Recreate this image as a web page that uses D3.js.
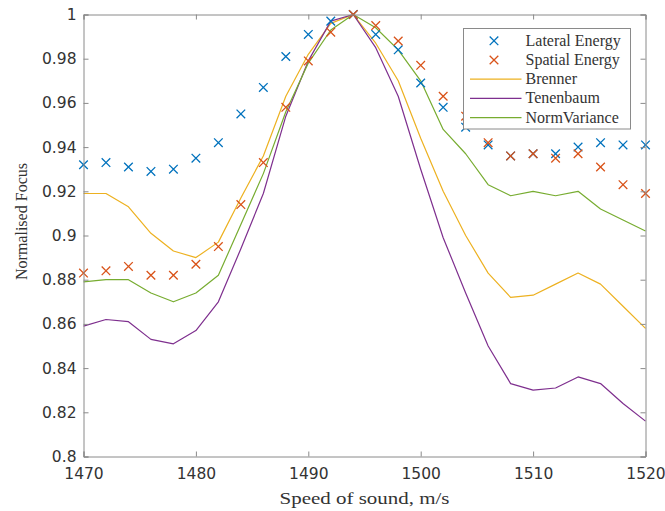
<!DOCTYPE html>
<html>
<head>
<meta charset="utf-8">
<script src="https://cdn.jsdelivr.net/npm/d3@7/dist/d3.min.js"></script>
<style>
  html, body { margin: 0; padding: 0; background: #fff; }
  svg { display: block; }
</style>
</head>
<body>
<svg id="chart" width="665" height="511"></svg>
<script>
// Speed of sound samples (m/s)
const speeds = [1470, 1472, 1474, 1476, 1478, 1480, 1482, 1484, 1486, 1488, 1490, 1492, 1494,
                1496, 1498, 1500, 1502, 1504, 1506, 1508, 1510, 1512, 1514, 1516, 1518, 1520];

// Normalised focus measures
const lateralEnergy = [0.932, 0.933, 0.931, 0.929, 0.930, 0.935, 0.942, 0.955, 0.967, 0.981, 0.991, 0.997, 1.000,
                       0.991, 0.984, 0.969, 0.958, 0.949, 0.941, 0.936, 0.937, 0.937, 0.940, 0.942, 0.941, 0.941];
const spatialEnergy = [0.883, 0.884, 0.886, 0.882, 0.882, 0.887, 0.895, 0.914, 0.933, 0.958, 0.979, 0.992, 1.000,
                       0.995, 0.988, 0.977, 0.963, 0.954, 0.942, 0.936, 0.937, 0.935, 0.937, 0.931, 0.923, 0.919];
const brenner = [0.919, 0.919, 0.913, 0.901, 0.893, 0.890, 0.897, 0.917, 0.936, 0.963, 0.982, 0.996, 1.000,
                 0.987, 0.970, 0.944, 0.920, 0.900, 0.883, 0.872, 0.873, 0.878, 0.883, 0.878, 0.868, 0.858];
const tenenbaum = [0.859, 0.862, 0.861, 0.853, 0.851, 0.857, 0.870, 0.894, 0.919, 0.954, 0.979, 0.997, 1.000,
                   0.985, 0.963, 0.930, 0.899, 0.874, 0.850, 0.833, 0.830, 0.831, 0.836, 0.833, 0.824, 0.816];
const normVariance = [0.879, 0.880, 0.880, 0.874, 0.870, 0.874, 0.882, 0.905, 0.928, 0.956, 0.978, 0.993, 1.000,
                      0.994, 0.984, 0.970, 0.948, 0.937, 0.923, 0.918, 0.920, 0.918, 0.920, 0.912, 0.907, 0.902];

const xTicks = [1470, 1480, 1490, 1500, 1510, 1520];
const yTicks = [0.8, 0.82, 0.84, 0.86, 0.88, 0.9, 0.92, 0.94, 0.96, 0.98, 1];

const seriesList = [
  { name: "Lateral Energy", values: lateralEnergy, kind: "marker", color: "#0072BD" },
  { name: "Spatial Energy", values: spatialEnergy, kind: "marker", color: "#D95319" },
  { name: "Brenner", values: brenner, kind: "line", color: "#EDB120" },
  { name: "Tenenbaum", values: tenenbaum, kind: "line", color: "#7E2F8E" },
  { name: "NormVariance", values: normVariance, kind: "line", color: "#77AC30" }
];

const svg = d3.select("#chart");
const plotLeft = 83.5, plotRight = 645.5, plotTop = 14.5, plotBottom = 456.5;
const axisColor = "#8a8a8a";
const textColor = "#333333";
const serif = "'Liberation Serif', 'DejaVu Serif', serif";

const x = d3.scaleLinear().domain([1470, 1520]).range([plotLeft, plotRight]);
const y = d3.scaleLinear().domain([0.8, 1]).range([plotBottom, plotTop]);

// Lines first, then markers on top
const lineGen = d3.line().x((d, i) => x(speeds[i])).y(d => y(d));
const plot = svg.append("g");

seriesList.filter(s => s.kind === "line").forEach(s => {
  plot.append("path")
    .attr("d", lineGen(s.values))
    .attr("fill", "none")
    .attr("stroke", s.color)
    .attr("stroke-width", 1.2)
    .attr("stroke-linejoin", "round");
});

function cross(g, cx, cy, r, color) {
  g.append("path")
    .attr("d", `M${cx - r},${cy - r}L${cx + r},${cy + r}M${cx - r},${cy + r}L${cx + r},${cy - r}`)
    .attr("stroke", color)
    .attr("stroke-width", 1.3)
    .attr("fill", "none");
}

seriesList.filter(s => s.kind === "marker").forEach(s => {
  const g = plot.append("g");
  s.values.forEach((v, i) => cross(g, x(speeds[i]), y(v), 4.3, s.color));
});

// Axes box with inward ticks on all four sides
const tickLen = 5;
const axX = d3.axisBottom(x).tickValues(xTicks).tickSize(-tickLen).tickPadding(11).tickFormat(d3.format("d"));
const axXTop = d3.axisTop(x).tickValues(xTicks).tickSize(-tickLen).tickFormat("");
const axY = d3.axisLeft(y).tickValues(yTicks).tickSize(-tickLen).tickPadding(7).tickFormat(d => d === 1 ? "1" : d3.format(".2~f")(d));
const axYRight = d3.axisRight(y).tickValues(yTicks).tickSize(-tickLen).tickFormat("");

function styleAxis(g) {
  g.select(".domain").attr("stroke", axisColor);
  g.selectAll(".tick line").attr("stroke", axisColor);
  g.selectAll(".tick text")
    .attr("fill", textColor)
    .style("font-family", "'DejaVu Sans', sans-serif")
    .style("font-size", "15.5px");
}

svg.append("g").attr("transform", `translate(0,${plotBottom})`).call(axX).call(styleAxis);
svg.append("g").attr("transform", `translate(0,${plotTop})`).call(axXTop).call(styleAxis);
svg.append("g").attr("transform", `translate(${plotLeft},0)`).call(axY).call(styleAxis);
svg.append("g").attr("transform", `translate(${plotRight},0)`).call(axYRight).call(styleAxis);

// Axis titles
svg.append("text")
  .attr("x", 364.5)
  .attr("y", 503.5)
  .attr("text-anchor", "middle")
  .attr("fill", textColor)
  .attr("textLength", 170)
  .attr("lengthAdjust", "spacingAndGlyphs")
  .style("font-family", serif)
  .style("font-size", "17px")
  .text("Speed of sound, m/s");

svg.append("text")
  .attr("transform", `translate(26.5,221.5) rotate(-90)`)
  .attr("text-anchor", "middle")
  .attr("fill", textColor)
  .attr("textLength", 117)
  .attr("lengthAdjust", "spacingAndGlyphs")
  .style("font-family", serif)
  .style("font-size", "17px")
  .text("Normalised Focus");

// Legend
const lgX = 463.5, lgY = 28.5, lgW = 167, lgH = 100.5, rowH = 19.2;
const legend = svg.append("g");
legend.append("rect")
  .attr("x", lgX).attr("y", lgY).attr("width", lgW).attr("height", lgH)
  .attr("fill", "#fff").attr("stroke", axisColor).attr("stroke-width", 1);

seriesList.forEach((s, i) => {
  const cy = lgY + 12.3 + i * rowH;
  if (s.kind === "marker") {
    cross(legend, 494, cy, 4.3, s.color);
  } else {
    legend.append("line")
      .attr("x1", 470).attr("x2", 521.5).attr("y1", cy).attr("y2", cy)
      .attr("stroke", s.color).attr("stroke-width", 1.2);
  }
  legend.append("text")
    .attr("x", 525.5).attr("y", cy + 5)
    .attr("fill", textColor)
    .style("font-family", serif)
    .style("font-size", "16px")
    .text(s.name);
});
</script>
</body>
</html>
